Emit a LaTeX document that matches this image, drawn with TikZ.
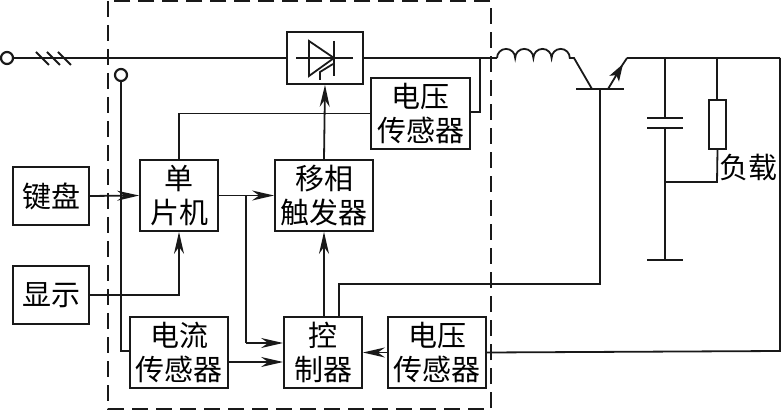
\documentclass[tikz,border=0pt]{standalone}
\usepackage{fontspec}
\setmainfont{Noto Sans CJK SC}
\usetikzlibrary{arrows.meta,calc}
\tikzset{
  wire/.style={line width=1.8pt,black!90},
  thick wire/.style={line width=2.2pt,black!90},
  arr/.style={wire,-{Stealth[length=22pt,width=10pt,inset=7pt]}},
  emarr/.style={wire,-{Stealth[length=17pt,width=11pt,inset=4pt]}},
  blockbox/.style={draw=black!90,line width=1.8pt,align=center,inner sep=0pt,font=\fontsize{29}{34}\selectfont,text=black},
  term/.style={circle,draw=black!90,line width=2.2pt,fill=white,minimum size=12pt,inner sep=0pt},
  frame/.style={line width=2.2pt,black!90,dash pattern=on 16pt off 8pt}
}
\begin{document}
\begin{tikzpicture}[x=1pt,y=-1pt]
\useasboundingbox (0,0) rectangle (781,411);
\draw[frame] (108,1) rectangle (491,409);
% blocks
\node[blockbox,minimum width=76pt,minimum height=52pt] (scr) at (325,58) {};
\node[blockbox,minimum width=99pt,minimum height=71pt] (vt) at (420.5,113.5) {电压\\传感器};
\node[blockbox,minimum width=78pt,minimum height=71pt] (mcu) at (179,195.5) {单\\片机};
\node[blockbox,minimum width=98pt,minimum height=71pt] (ph) at (324,195.5) {移相\\触发器};
\node[blockbox,minimum width=76pt,minimum height=58pt] (kb) at (51,196) {键盘};
\node[blockbox,minimum width=76pt,minimum height=58pt] (dp) at (51,295) {显示};
\node[blockbox,minimum width=98pt,minimum height=71pt] (cs) at (179,352.5) {电流\\传感器};
\node[blockbox,minimum width=78pt,minimum height=71pt] (ct) at (323,352.5) {控\\制器};
\node[blockbox,minimum width=98pt,minimum height=71pt] (vb) at (437,352.5) {电压\\传感器};
\node[term] (t1) at (7,58) {};
\node[term] (t2) at (121,75) {};
\node[inner sep=0pt,font=\fontsize{29}{34}\selectfont,text=black] (load) at (748,167) {负载};
% named points
\coordinate (c0) at (497,58);
\coordinate (jt) at (480,58);
\coordinate (col) at (592,89);
\coordinate (emi) at (608,89);
\coordinate (top) at (627,58);
\coordinate (tr) at (780,58);
\coordinate (br) at (780,351);
\coordinate (bs) at (600,89);
\coordinate (capx) at (665,58);
\coordinate (resx) at (717,58);
% main line
\draw[wire] (t1) -- (scr.west);
\draw[wire] (scr.east) -- (c0);
\draw[wire] (c0) arc[start angle=180,end angle=360,radius=9.1] arc[start angle=180,end angle=360,radius=9.1] arc[start angle=180,end angle=360,radius=9.1] arc[start angle=180,end angle=360,radius=9.1] -- (574,58) -- (col);
\foreach \x in {36,47,58} \draw[wire] (\x,52) -- ++(13,13);
% thyristor
\draw[wire] (296,58) -- (353,58);
\draw[wire] (309,41) -- (309,76) -- (334,58) -- cycle;
\draw[wire] (334,41) -- (334,76);
\draw[wire] (333,64) -- (320,72) -- (320,80);
% transistor
\draw[thick wire] (576,89) -- (624,89);
\draw[thick wire] (top) -- (tr);
\draw[wire] (tr) -- (br) -- (vb.east);
\draw[emarr] (emi) -- (623,64);
\draw[wire] (621,67) -- (top);
% cap and load
\draw[wire] (capx) -- (665,118);
\draw[wire] (647,118) -- (683,118);
\draw[wire] (647,128) -- (683,128);
\draw[wire] (665,128) -- (665,260);
\draw[wire] (647,260) -- (683,260);
\draw[wire] (resx) -- (717,100);
\node[draw=black!90,line width=1.8pt,minimum width=17pt,minimum height=49pt,inner sep=0pt] (res) at (717.5,124.5) {};
\draw[wire] (res.south) -- (717,182) -- (665,182);
% connectors
\draw[wire] (vt.east |- 0,112) -- (480,112) -- (jt);
\draw[wire] (mcu.north) -- (mcu.north |- vt.west) -- (vt.west);
\draw[arr] (ph.north) -- (scr.south);
\draw[arr] (kb.east) -- (mcu.west);
\draw[arr] (mcu.east) -- (ph.west);
\draw[wire] (246,195.5) -- (246,343);
\draw[arr] (246,343) -- (ct.west |- 0,343);
\draw[arr] (dp.east) -- (mcu.south |- dp.east) -- (mcu.south);
\draw[wire] (t2) -- (121,351) -- (cs.west |- 0,351);
\draw[arr] (cs.east |- 0,362) -- (ct.west |- 0,362);
\draw[arr] (ct.north -| ph.south) -- (ph.south);
\draw[arr] (vb.west) -- (ct.east);
\draw[thick wire] (339,317) -- (339,284) -- (600,284) -- (bs);
\end{tikzpicture}
\end{document}
